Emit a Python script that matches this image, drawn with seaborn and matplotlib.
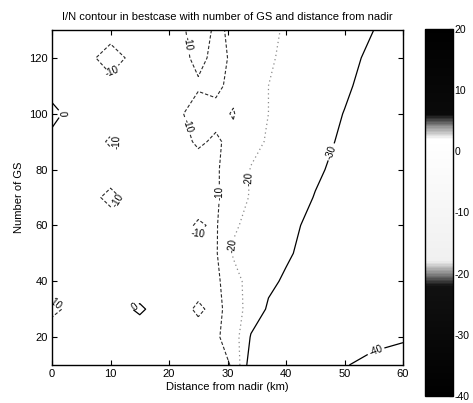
import numpy as np
import matplotlib
matplotlib.use("Agg")
import matplotlib.pyplot as plt
import seaborn as sns
from matplotlib.colors import LinearSegmentedColormap, Normalize
from matplotlib.cm import ScalarMappable

# ---------------- data ----------------
distance_km = [0, 5, 10, 15, 20, 25, 28, 31, 34, 37, 40, 45, 50, 55, 60]
num_gs = [10, 20, 30, 40, 50, 60, 70, 80, 90, 100, 110, 120, 130]

# I/N (dB) at each distance, one list per number of GS
in_gs010 = [-5, -5, -4, -4, -5, -6, -8, -10.5, -36, -36.5, -37, -38.5, -39.8, -41, -42]
in_gs020 = [-5, -6, -5, -4, -5, -6, -8.5, -15, -30.7, -33.5, -35, -36.5, -38, -39, -39.5]
in_gs030 = [-12, -6, -3, 1, -4, -11.5, -7.5, -14, -25, -31, -33.5, -35, -36.5, -37.5, -38.5]
in_gs040 = [-5, -5, -4, -4, -5, -6, -8, -16, -24, -28.5, -31, -34, -35.5, -36.5, -37.5]
in_gs050 = [-4, -5, -5, -6, -6, -8, -9, -21, -23, -26.5, -29, -33, -34.5, -35.5, -36.5]
in_gs060 = [-4, -5, -6, -6, -6, -10.8, -9, -19, -22, -25, -28, -32, -34, -35, -36]
in_gs070 = [-4, -6, -12, -6, -6, -7, -9, -14, -21, -24, -26.5, -30.3, -33, -34.5, -35.5]
in_gs080 = [-3, -5, -6, -5, -6, -7, -9.5, -12, -20.5, -23, -25.5, -29, -32, -34, -35]
in_gs090 = [-2, -5, -11, -6, -6, -11, -9, -12, -17, -21, -24, -28, -31, -33.5, -34.5]
in_gs100 = [2, -4, -6, -5, -6, -14, -12, -9.5, -16, -20, -23, -27, -30.2, -33, -34]
in_gs110 = [-3, -5, -7, -5, -6, -9, -8.5, -12, -16, -20, -22.5, -26, -29, -32.5, -33.5]
in_gs120 = [-4, -6, -14, -6, -5, -12, -8, -11, -15, -19, -21.5, -25, -28, -31.5, -33]
in_gs130 = [-4, -5, -6, -5, -6, -13, -9, -11, -14, -18, -21, -24, -27, -30, -32.5]

contour_levels = [-40, -30, -20, -10, 0]
cbar_ticks = [20, 10, 0, -10, -20, -30, -40]
x_ticks = [0, 10, 20, 30, 40, 50, 60]
y_ticks = [20, 40, 60, 80, 100, 120]

title_text = "I/N contour in bestcase with number of GS and distance from nadir"
x_label = "Distance from nadir (km)"
y_label = "Number of GS"

# ---------------- style ----------------
sns.set_theme(style="white")
plt.rcParams['font.family'] = ['Liberation Sans', 'DejaVu Sans']
plt.rcParams['axes.unicode_minus'] = False
plt.rcParams['axes.edgecolor'] = 'black'
plt.rcParams['xtick.color'] = 'black'
plt.rcParams['ytick.color'] = 'black'
plt.rcParams['text.color'] = 'black'
plt.rcParams['axes.labelcolor'] = 'black'

fig = plt.figure(figsize=(4.73, 4.03), dpi=100)
ax = fig.add_axes([0.110, 0.0943, 0.742, 0.8313])

Z = np.array([in_gs010, in_gs020, in_gs030, in_gs040, in_gs050, in_gs060, in_gs070,
              in_gs080, in_gs090, in_gs100, in_gs110, in_gs120, in_gs130])
X, Y = np.meshgrid(distance_km, num_gs)

line_colors = ['black', 'black', '#8a8a8a', '#2a2a2a', 'black']
line_styles = ['solid', 'solid', (0, (1, 2.5)), (0, (3, 1.8)), 'solid']
line_widths = [0.9, 0.9, 0.9, 0.8, 0.9]
cs = ax.contour(X, Y, Z, levels=contour_levels, colors=line_colors,
                linestyles=line_styles, linewidths=line_widths)

label_positions = [
    (55.5, 14),
    (46.8, 87),
    (32.3, 77), (30.5, 53),
    (10.8, 114), (23, 125), (23.5, 96), (11.6, 88.6), (11.6, 68),
    (0.5, 32), (29.5, 71.5), (25, 57),
    (1.7, 100), (14.5, 30),
]
ax.clabel(cs, manual=label_positions, inline=True, fontsize=7,
          fmt='%d', colors='black', inline_spacing=2)

ax.set_xlim(0, 60)
ax.set_ylim(10, 130)
ax.set_xticks(x_ticks)
ax.set_yticks(y_ticks)
ax.tick_params(direction='in', length=3.5, width=0.8, labelsize=8,
               top=True, right=True, bottom=True, left=True, pad=3)
for sp in ax.spines.values():
    sp.set_linewidth(1.0)
    sp.set_color('black')
ax.set_title(title_text, fontsize=8, pad=7)
ax.set_xlabel(x_label, fontsize=8, labelpad=2)
ax.set_ylabel(y_label, fontsize=8, labelpad=4)

# colorbar (scanned grayscale colormap)
cmap = LinearSegmentedColormap.from_list('scan', [
    (0.0, 'black'), (0.30, '#111111'), (0.333, '#888888'), (0.367, '#f0f0f0'),
    (0.70, 'white'), (0.733, '#999999'), (0.767, '#0a0a0a'), (1.0, 'black')])
cax = fig.add_axes([0.8985, 0.0174, 0.0592, 0.9107])
sm = ScalarMappable(norm=Normalize(-40, 20), cmap=cmap)
cb = fig.colorbar(sm, cax=cax, ticks=cbar_ticks)
cb.outline.set_linewidth(1.0)
cb.outline.set_edgecolor('black')
cax.tick_params(direction='in', length=3, width=0.8, labelsize=7.5, pad=1)

fig.savefig("out.png", dpi=100)
